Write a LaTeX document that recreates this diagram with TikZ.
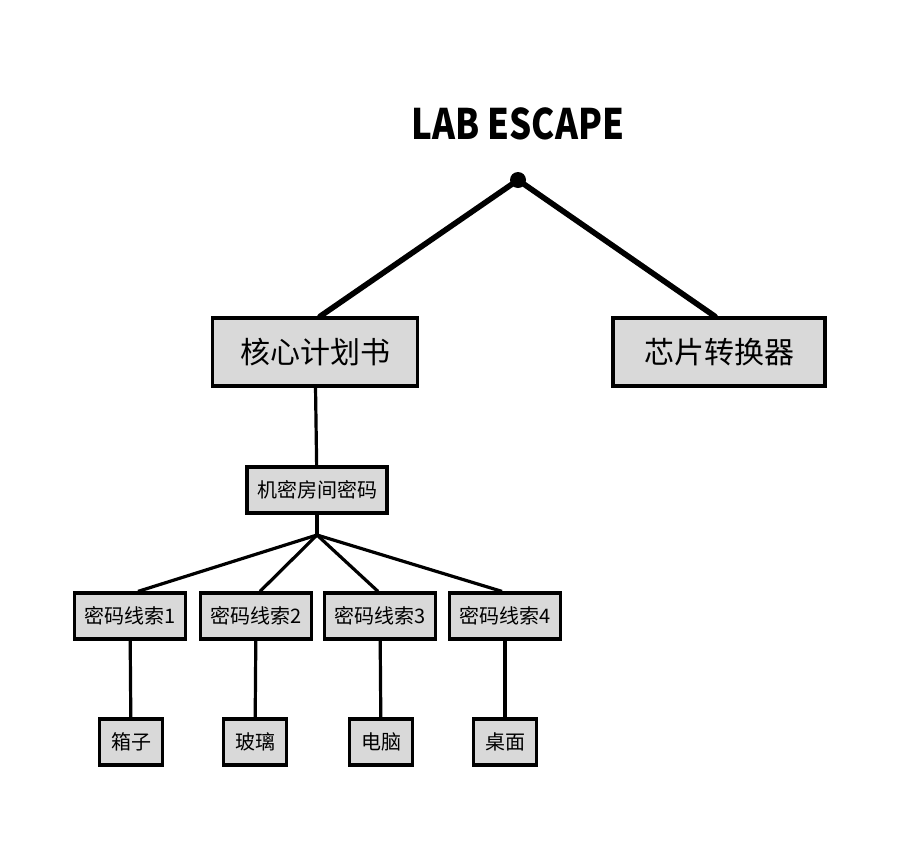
\documentclass[tikz,border=0pt]{standalone}
\usepackage{fontspec}
\newfontfamily\cjk{Noto Sans CJK SC}
\newfontfamily\titlefont[FakeStretch=0.83]{Noto Sans CJK SC}
\usetikzlibrary{calc}
\definecolor{boxgray}{HTML}{D9D9D9}
\tikzstyle{box} = [%
					draw,
					fill = boxgray,
					line width = 1.6pt,
					inner sep = 0pt,
					font = \cjk]
\tikzstyle{bigbox} = [%
					box,
					minimum height = 34pt,
					font = \cjk\fontsize{15}{15}\selectfont]
\tikzstyle{smallbox} = [%
					box,
					minimum height = 23pt,
					font = \cjk\fontsize{10}{10}\selectfont]
\tikzstyle{branch} = [%
					line width = 1.6pt]
\tikzstyle{trunk} = [%
					line width = 2.8pt,
					line cap = round]

\begin{document}
\begin{tikzpicture}[x=0.5pt, y=-0.5pt]
		
		\useasboundingbox (0,0) rectangle (900,841);
		
		% Title
		\node[font=\titlefont\bfseries\fontsize{21}{21}\selectfont] (title) at (518,124) {LAB ESCAPE};
		
		% Coordinates
		\coordinate (apex) at (518,180);
		\coordinate (hub) at (317,535);
		
		% Nodes
		%% Top level
		\node[bigbox, minimum width=102.5pt] (core) at (315,352) {核心计划书};
		\node[bigbox, minimum width=106pt] (chip) at (719,352) {芯片转换器};
		%% Room code
		\node[smallbox, minimum width=70pt] (room) at (317,490) {机密房间密码};
		%% Clues
		\node[smallbox, minimum width=55.5pt] (clue1) at (130,616) {密码线索1};
		\node[smallbox, minimum width=55.5pt] (clue2) at (256,616) {密码线索2};
		\node[smallbox, minimum width=55.5pt] (clue3) at (380,616) {密码线索3};
		\node[smallbox, minimum width=55.5pt] (clue4) at (505,616) {密码线索4};
		%% Objects
		\node[smallbox, minimum width=31.5pt] (box) at (131,742) {箱子};
		\node[smallbox, minimum width=31.5pt] (glass) at (255,742) {玻璃};
		\node[smallbox, minimum width=31.5pt] (pc) at (381,742) {电脑};
		\node[smallbox, minimum width=31.5pt] (desk) at (505,742) {桌面};
		
		% Connectors
		\fill (apex) circle (4pt);
		\draw[trunk] ($(core.north)+(5,0)$) -- (apex) -- ($(chip.north)+(-4,0)$);
		\draw[branch] (core) -- (room);
		\draw[branch] (room) -- (hub);
		\foreach \c/\dx in {clue1/8, clue2/4, clue3/-2, clue4/-3}
			\draw[branch] (hub) -- ($(\c.north)+(\dx,0)$);
		\draw[branch] (clue1) -- (box);
		\draw[branch] (clue2) -- (glass);
		\draw[branch] (clue3) -- (pc);
		\draw[branch] (clue4) -- (desk);
	\end{tikzpicture}
\end{document}
